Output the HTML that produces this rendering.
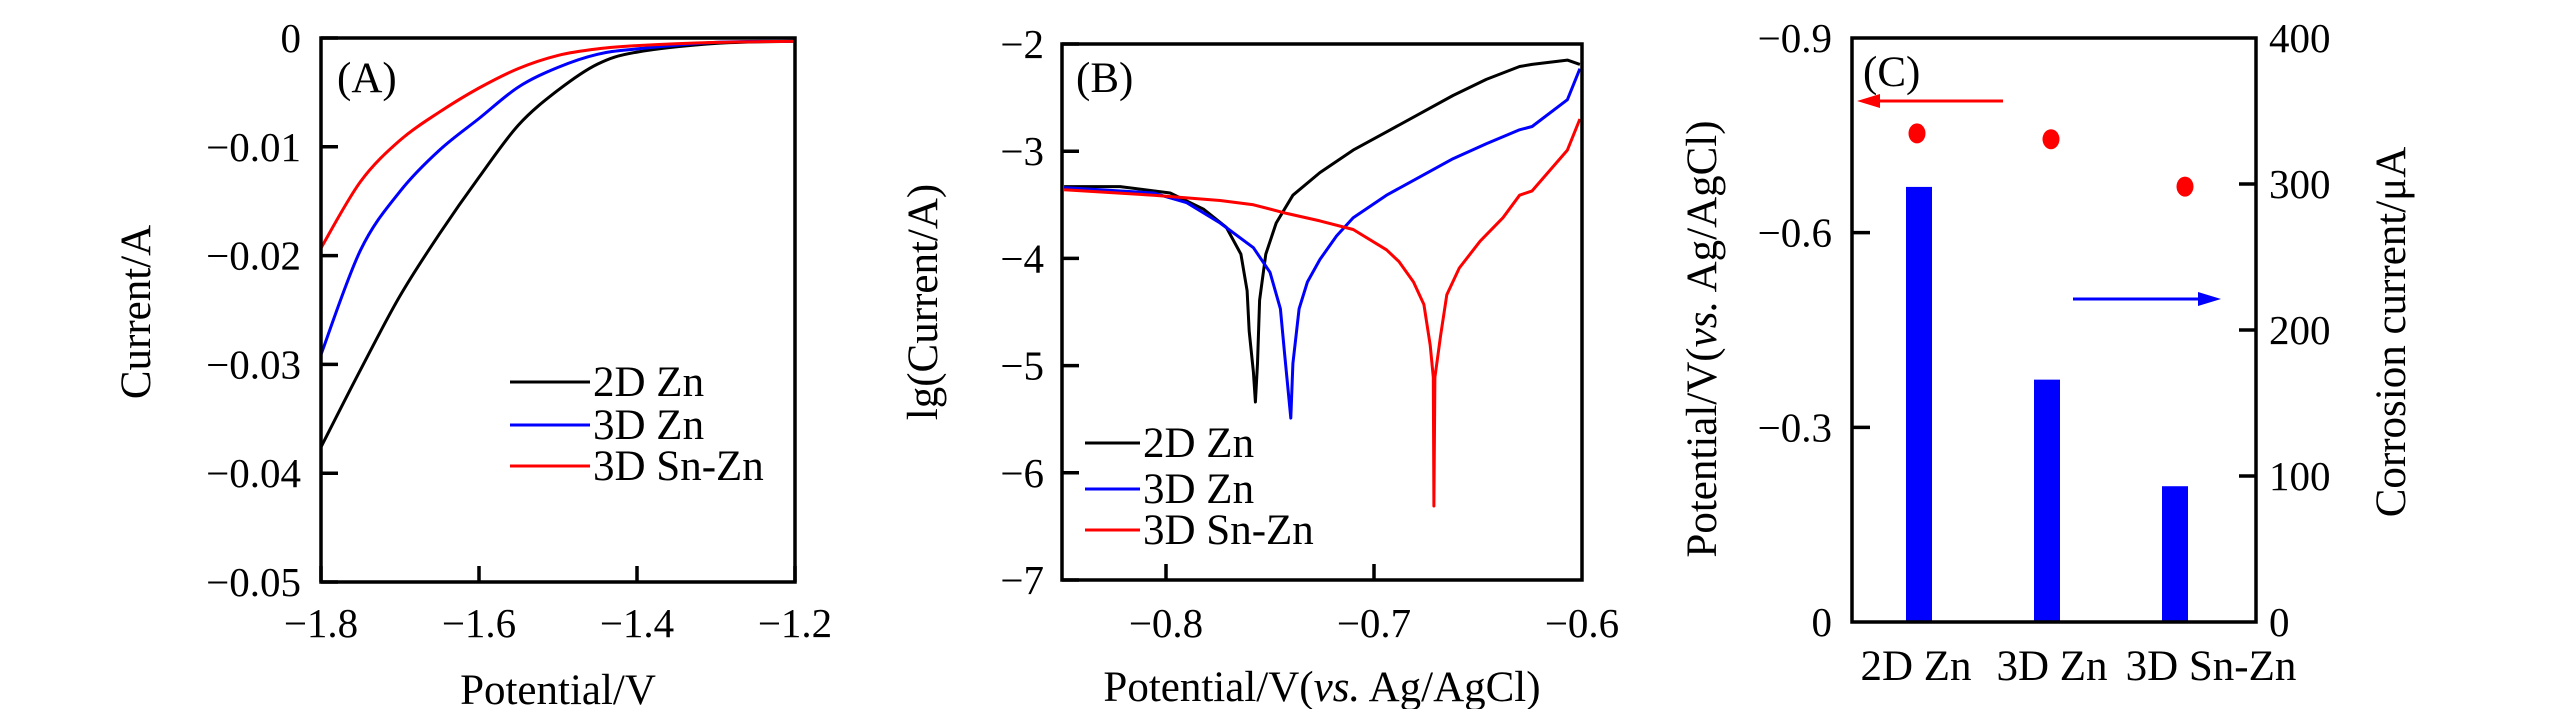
<!DOCTYPE html>
<html><head><meta charset="utf-8">
<style>
html,body{margin:0;padding:0;background:#fff;}
svg{display:block;font-family:"Liberation Serif",serif;}
</style></head>
<body>
<svg id="fig" width="2567" height="709" viewBox="0 0 2567 709" xmlns="http://www.w3.org/2000/svg">
<rect x="0" y="0" width="2567" height="709" fill="#fff"/>
<g id="pA"></g>
<g id="pB"></g>
<g id="pC"></g>
</svg>
<script>
// ---------- Panel A data ----------
const aPotential = [-1.8,-1.75,-1.7,-1.65,-1.6,-1.55,-1.5,-1.45,-1.4,-1.3,-1.2];
const a2DZn   = [-0.0376,-0.0305,-0.0237,-0.0180,-0.0128,-0.0080,-0.0048,-0.0024,-0.0013,-0.0005,-0.0003];
const a3DZn   = [-0.0291,-0.0195,-0.0141,-0.0103,-0.0074,-0.0045,-0.0027,-0.0015,-0.0010,-0.0004,-0.0003];
const a3DSnZn = [-0.0193,-0.0132,-0.0094,-0.0068,-0.0046,-0.0028,-0.0016,-0.0010,-0.0007,-0.0004,-0.0003];
const aXTicks = [-1.8,-1.6,-1.4,-1.2];
const aXTickLabels = ["−1.8","−1.6","−1.4","−1.2"];
const aYTicks = [0,-0.01,-0.02,-0.03,-0.04,-0.05];
const aYTickLabels = ["0","−0.01","−0.02","−0.03","−0.04","−0.05"];
const seriesNames = ["2D Zn","3D Zn","3D Sn-Zn"];
const seriesColors = ["#000","#0000ff","#ff0000"];

// ---------- Panel B data ----------
const b2DZnV  = [-0.849,-0.822,-0.798,-0.782,-0.771,-0.764,-0.761,-0.760,-0.758,-0.757,-0.756,-0.755,-0.752,-0.747,-0.739,-0.726,-0.710,-0.694,-0.678,-0.662,-0.646,-0.630,-0.624,-0.607,-0.601];
const b2DZnLg = [-3.33,-3.33,-3.39,-3.54,-3.71,-3.96,-4.30,-4.68,-5.06,-5.34,-4.98,-4.39,-3.96,-3.67,-3.41,-3.20,-2.99,-2.82,-2.65,-2.48,-2.33,-2.21,-2.19,-2.15,-2.19];
const b3DZnV  = [-0.849,-0.806,-0.790,-0.774,-0.758,-0.750,-0.745,-0.743,-0.740,-0.739,-0.736,-0.732,-0.726,-0.718,-0.710,-0.694,-0.678,-0.662,-0.646,-0.630,-0.624,-0.607,-0.601];
const b3DZnLg = [-3.34,-3.39,-3.48,-3.67,-3.90,-4.13,-4.47,-4.89,-5.49,-4.98,-4.47,-4.22,-4.01,-3.79,-3.62,-3.41,-3.24,-3.07,-2.93,-2.80,-2.77,-2.52,-2.23];
const b3DSnZnV  = [-0.849,-0.806,-0.774,-0.758,-0.742,-0.726,-0.710,-0.694,-0.688,-0.681,-0.676,-0.673,-0.6715,-0.6712,-0.6707,-0.668,-0.665,-0.659,-0.649,-0.638,-0.630,-0.624,-0.607,-0.601];
const b3DSnZnLg = [-3.36,-3.41,-3.46,-3.50,-3.58,-3.65,-3.73,-3.92,-4.03,-4.22,-4.43,-4.81,-5.11,-6.31,-5.11,-4.72,-4.34,-4.09,-3.84,-3.62,-3.41,-3.37,-2.99,-2.70];
const bXTicks = [-0.8,-0.7,-0.6];
const bXTickLabels = ["−0.8","−0.7","−0.6"];
const bYTicks = [-2,-3,-4,-5,-6,-7];
const bYTickLabels = ["−2","−3","−4","−5","−6","−7"];

// ---------- Panel C data ----------
const cCategories = ["2D Zn","3D Zn","3D Sn-Zn"];
const cCorrosionCurrent = [298,166,93];
const cCorrosionPotential = [-0.753,-0.744,-0.671];
const cLeftTicks = [0,-0.3,-0.6,-0.9];
const cLeftTickLabels = ["0","−0.3","−0.6","−0.9"];
const cRightTicks = [0,100,200,300,400];
const cRightTickLabels = ["0","100","200","300","400"];

const NS = "http://www.w3.org/2000/svg";
const FT = 41, FL = 43;
function mk(parent, tag, attrs, text){
  const el = document.createElementNS(NS, tag);
  for (const k in attrs) el.setAttribute(k, attrs[k]);
  if (text !== undefined) el.textContent = text;
  parent.appendChild(el);
  return el;
}
function pathD(xs, ys, fx, fy){
  return xs.map((x,i)=>(i?"L":"M")+fx(x).toFixed(1)+","+fy(ys[i]).toFixed(1)).join(" ");
}
function smoothD(xs, ys, fx, fy){
  const p = xs.map((x,i)=>[fx(x),fy(ys[i])]);
  let d = "M"+p[0][0].toFixed(1)+","+p[0][1].toFixed(1);
  for (let i=0;i<p.length-1;i++){
    const p0=p[Math.max(i-1,0)], p1=p[i], p2=p[i+1], p3=p[Math.min(i+2,p.length-1)];
    const c1=[p1[0]+(p2[0]-p0[0])/6, p1[1]+(p2[1]-p0[1])/6];
    const c2=[p2[0]-(p3[0]-p1[0])/6, p2[1]-(p3[1]-p1[1])/6];
    d += " C"+c1[0].toFixed(1)+","+c1[1].toFixed(1)+" "+c2[0].toFixed(1)+","+c2[1].toFixed(1)+" "+p2[0].toFixed(1)+","+p2[1].toFixed(1);
  }
  return d;
}

// ===== Panel A =====
(function(){
  const g = document.getElementById('pA');
  const L=321,R=795,T=38,B=582;
  const fx = v => L + (v+1.8)/0.6*(R-L);
  const fy = v => T + (-v)/0.05*(B-T);
  for (let i=0;i<aXTicks.length;i++){
    const x = fx(aXTicks[i]);
    const t = mk(g,'line',{x1:x,y1:B,x2:x,y2:B-16,stroke:'#000','stroke-width':3.5});
    
    
    const l = mk(g,'text',{x:x,y:637,'font-size':FT,'text-anchor':'middle'},aXTickLabels[i]);
    
    
  }
  for (let i=0;i<aYTicks.length;i++){
    const y = fy(aYTicks[i]);
    const t = mk(g,'line',{x1:L,y1:y,x2:L+17,y2:y,stroke:'#000','stroke-width':3.5});
    
    
    const l = mk(g,'text',{x:301,y:y+14,'font-size':FT,'text-anchor':'end'},aYTickLabels[i]);
    
    
  }
  const series=[a2DZn,a3DZn,a3DSnZn];
  for (let s=0;s<3;s++){
    const p = mk(g,'path',{d:smoothD(aPotential,series[s],fx,fy),fill:'none',stroke:seriesColors[s],'stroke-width':3,'stroke-linejoin':'round'});
    
    
  }
  const box = mk(g,'rect',{x:L,y:T,width:R-L,height:B-T,fill:'none',stroke:'#000','stroke-width':3.5});
  
  
  const pl = mk(g,'text',{x:337,y:92,'font-size':FL},'(A)');
  
  
  const ly=[382,425,466];
  for (let s=0;s<3;s++){
    const y = ly[s];
    const ln = mk(g,'line',{x1:510,y1:y,x2:590,y2:y,stroke:seriesColors[s],'stroke-width':3});
    
    
    const tx = mk(g,'text',{x:593,y:y+14,'font-size':FL},seriesNames[s]);
    
    
  }
  const xt = mk(g,'text',{x:558,y:704,'font-size':FL,'text-anchor':'middle'},'Potential/V');
  
  
  const yt = mk(g,'text',{x:0,y:0,'font-size':FL,'text-anchor':'middle',transform:'translate(150,312) rotate(-90)'},'Current/A');
  
  
})();

// ===== Panel B =====
(function(){
  const g = document.getElementById('pB');
  const L=1062,R=1582,T=44,B=580;
  const fx = v => L + (v+0.85)/0.25*(R-L);
  const fy = v => T + (-2-v)/5*(B-T);
  for (let i=0;i<bXTicks.length;i++){
    const x = fx(bXTicks[i]);
    if (i<bXTicks.length-1){
      const t = mk(g,'line',{x1:x,y1:B,x2:x,y2:B-16,stroke:'#000','stroke-width':3.5});
      
      
    }
    const l = mk(g,'text',{x:x,y:637,'font-size':FT,'text-anchor':'middle'},bXTickLabels[i]);
    
    
  }
  for (let i=0;i<bYTicks.length;i++){
    const y = fy(bYTicks[i]);
    const t = mk(g,'line',{x1:L,y1:y,x2:L+17,y2:y,stroke:'#000','stroke-width':3.5});
    
    
    const l = mk(g,'text',{x:1044,y:y+14,'font-size':FT,'text-anchor':'end'},bYTickLabels[i]);
    
    
  }
  const xs=[b2DZnV,b3DZnV,b3DSnZnV], ys=[b2DZnLg,b3DZnLg,b3DSnZnLg];
  for (let s=0;s<3;s++){
    const p = mk(g,'path',{d:pathD(xs[s],ys[s],fx,fy),fill:'none',stroke:seriesColors[s],'stroke-width':3,'stroke-linejoin':'round'});
    
    
  }
  const box = mk(g,'rect',{x:L,y:T,width:R-L,height:B-T,fill:'none',stroke:'#000','stroke-width':3.5});
  
  
  const pl = mk(g,'text',{x:1076,y:92,'font-size':FL},'(B)');
  
  
  const ly=[443,489,530];
  for (let s=0;s<3;s++){
    const y = ly[s];
    const ln = mk(g,'line',{x1:1085,y1:y,x2:1140,y2:y,stroke:seriesColors[s],'stroke-width':3});
    
    
    const tx = mk(g,'text',{x:1143,y:y+14,'font-size':FL},seriesNames[s]);
    
    
  }
  const xt = mk(g,'text',{x:1322,y:701,'font-size':FL,'text-anchor':'middle'});
  
  
  mk(xt,'tspan',{},'Potential/V(');
  mk(xt,'tspan',{'font-style':'italic'},'vs.');
  mk(xt,'tspan',{},' Ag/AgCl)');
  const yt = mk(g,'text',{x:0,y:0,'font-size':FL,'text-anchor':'middle',transform:'translate(937,302) rotate(-90)'},'lg(Current/A)');
  
  
})();

// ===== Panel C =====
(function(){
  const g = document.getElementById('pC');
  const L=1852,R=2256,T=38,B=622;
  const cx = i => 1919 + i*128;
  const fyL = v => B - (-v)/0.9*(B-T);
  const fyR = v => B - v/400*(B-T);
  for (let i=0;i<cLeftTicks.length;i++){
    const y = fyL(cLeftTicks[i]);
    if (i>0 && i<cLeftTicks.length-1){
      const t = mk(g,'line',{x1:L,y1:y,x2:L+18,y2:y,stroke:'#000','stroke-width':3.5});
      
      
    }
    const l = mk(g,'text',{x:1832,y:y+14,'font-size':FT,'text-anchor':'end'},cLeftTickLabels[i]);
    
    
  }
  for (let i=0;i<cRightTicks.length;i++){
    const y = fyR(cRightTicks[i]);
    if (i>0 && i<cRightTicks.length-1){
      const t = mk(g,'line',{x1:R,y1:y,x2:R-17,y2:y,stroke:'#000','stroke-width':3.5});
      
      
    }
    const l = mk(g,'text',{x:2269,y:y+14,'font-size':FT,'text-anchor':'start'},cRightTickLabels[i]);
    
    
  }
  const labelShift=[-3,5,36];
  for (let i=0;i<cCategories.length;i++){
    const top = fyR(cCorrosionCurrent[i]);
    const b = mk(g,'rect',{x:cx(i)-13,y:top,width:26,height:B-top,fill:'#0000ff'});
    
    
    const d = mk(g,'ellipse',{cx:cx(i)-2+6*i,cy:fyL(cCorrosionPotential[i]),rx:8.5,ry:10,fill:'#ff0000'});
    
    
    const l = mk(g,'text',{x:cx(i)+labelShift[i],y:680,'font-size':FL,'text-anchor':'middle'},cCategories[i]);
    
    
  }
  const box = mk(g,'rect',{x:L,y:T,width:R-L,height:B-T,fill:'none',stroke:'#000','stroke-width':3.5});
  
  
  const pl = mk(g,'text',{x:1863,y:86,'font-size':FL},'(C)');
  
  
  const ra = mk(g,'line',{x1:1872,y1:101,x2:2003,y2:101,stroke:'#ff0000','stroke-width':3});
  
  
  const rh = mk(g,'polygon',{points:'1857,101 1880,94 1880,108',fill:'#ff0000'});
  
  
  const ba = mk(g,'line',{x1:2073,y1:299,x2:2205,y2:299,stroke:'#0000ff','stroke-width':3});
  
  
  const bh = mk(g,'polygon',{points:'2221,299 2198,292 2198,306',fill:'#0000ff'});
  
  
  const yl = mk(g,'text',{x:0,y:0,'font-size':FL,'text-anchor':'middle',transform:'translate(1716,339) rotate(-90)'});
  
  
  mk(yl,'tspan',{},'Potential/V(');
  mk(yl,'tspan',{'font-style':'italic'},'vs.');
  mk(yl,'tspan',{},' Ag/AgCl)');
  const yr = mk(g,'text',{x:0,y:0,'font-size':FL,'text-anchor':'middle',transform:'translate(2405,332) rotate(-90)'},'Corrosion current/μA');
  
  
})();
</script>
</body></html>
